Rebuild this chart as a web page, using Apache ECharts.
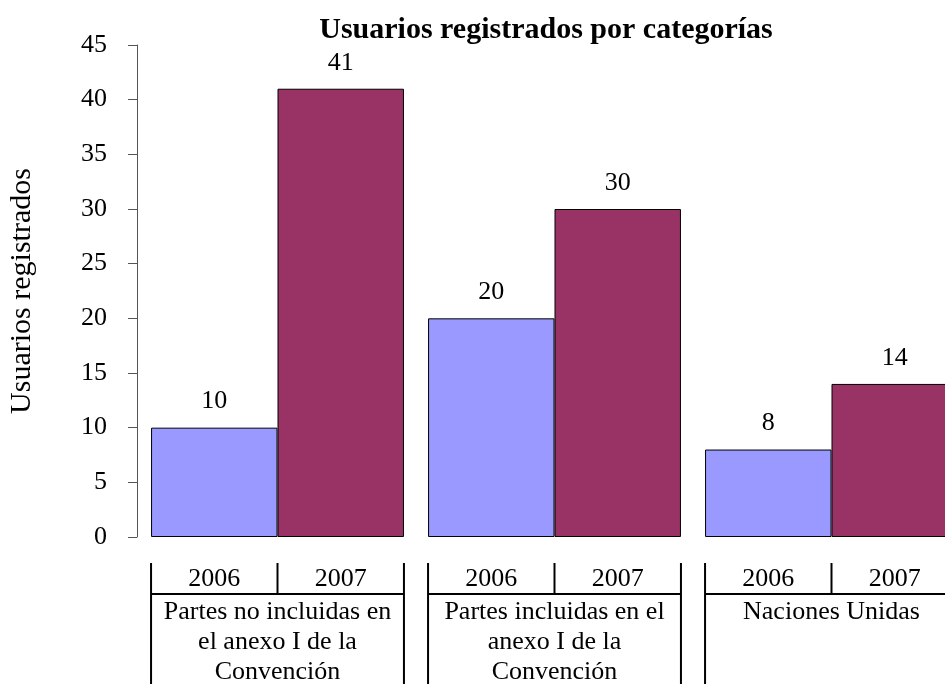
<!DOCTYPE html>
<html>
<head>
<meta charset="utf-8">
<script src="https://cdn.jsdelivr.net/npm/echarts@6/dist/echarts.min.js"></script>
<style>
  html, body { margin: 0; padding: 0; background: #fff; }
  #chart { width: 945px; height: 684px; }
</style>
</head>
<body>
<div id="chart"></div>
<script>
  // datos
  const categories = [
    'Partes no incluidas en\nel anexo I de la\nConvención',
    'Partes incluidas en el\nanexo I de la\nConvención',
    'Naciones Unidas'
  ];
  const years = ['2006', '2007'];
  const users2006 = [10, 20, 8];
  const users2007 = [41, 30, 14];
  const yMin = 0, yMax = 45, yStep = 5;

  const serif = '"Liberation Serif", "DejaVu Serif", serif';
  const catGap = 0.087; // barCategoryGap as fraction

  let myChart = echarts.init(document.getElementById('chart'));

  // tabla bajo el eje: años + nombre de categoría
  function renderTable(params, api) {
    let idx = api.value(0);
    let c = api.coord([idx, 0]);
    let band = api.size([1, 0])[0];
    let half = band * (1 - catGap) / 2;
    let x0 = c[0] - half, x1 = c[0] + half, xm = c[0];
    let y0 = c[1];
    let lineStyle = { stroke: '#000', lineWidth: 2 };
    let children = [
      { type: 'line', shape: { x1: x0, y1: y0 + 26, x2: x0, y2: y0 + 160 }, style: lineStyle },
      { type: 'line', shape: { x1: x1, y1: y0 + 26, x2: x1, y2: y0 + 160 }, style: lineStyle },
      { type: 'line', shape: { x1: xm, y1: y0 + 26, x2: xm, y2: y0 + 57 }, style: lineStyle },
      { type: 'line', shape: { x1: x0, y1: y0 + 57, x2: x1, y2: y0 + 57 }, style: lineStyle }
    ];
    years.forEach((yr, k) => {
      children.push({
        type: 'text',
        style: {
          text: yr, x: (k === 0 ? (x0 + xm) / 2 : (xm + x1) / 2), y: y0 + 42,
          align: 'center', verticalAlign: 'middle',
          fontSize: 26, fontFamily: serif, fill: '#000'
        }
      });
    });
    children.push({
      type: 'text',
      style: {
        text: categories[idx], x: xm, y: y0 + 60,
        align: 'center', verticalAlign: 'top',
        fontSize: 26, fontFamily: serif, lineHeight: 30, fill: '#000'
      }
    });
    return { type: 'group', children: children };
  }

  myChart.setOption({
    animation: false,
    title: {
      text: 'Usuarios registrados por categorías',
      left: 541, top: 10, textAlign: 'center',
      textStyle: { fontFamily: serif, fontSize: 30, fontWeight: 'bold', color: '#000' }
    },
    grid: { left: 139, top: 45, height: 492, width: 831, outerBoundsMode: 'none', containLabel: false },
    xAxis: {
      type: 'category',
      data: categories,
      axisLine: { show: false },
      axisTick: { show: false },
      axisLabel: { show: false }
    },
    yAxis: {
      type: 'value',
      min: yMin, max: yMax, interval: yStep,
      offset: 2,
      name: 'Usuarios registrados',
      nameLocation: 'middle',
      nameGap: 100,
      nameTextStyle: { fontFamily: serif, fontSize: 30, color: '#000' },
      axisLine: { show: true, lineStyle: { color: '#555', width: 1 } },
      axisTick: { show: true, length: 9, lineStyle: { color: '#555' } },
      axisLabel: { margin: 30, fontFamily: serif, fontSize: 26, color: '#000' },
      splitLine: { show: false }
    },
    series: [
      {
        name: years[0], type: 'bar', data: users2006,
        barGap: 0, barCategoryGap: (catGap * 100) + '%',
        itemStyle: { color: '#9999FF', borderColor: '#000', borderWidth: 1 },
        label: { show: true, position: 'top', distance: 13, fontFamily: serif, fontSize: 26, color: '#000' }
      },
      {
        name: years[1], type: 'bar', data: users2007,
        barGap: 0, barCategoryGap: (catGap * 100) + '%',
        itemStyle: { color: '#993366', borderColor: '#000', borderWidth: 1 },
        label: { show: true, position: 'top', distance: 13, fontFamily: serif, fontSize: 26, color: '#000' }
      },
      {
        type: 'custom',
        clip: false,
        silent: true,
        data: categories.map((c, i) => [i, 0]),
        encode: { x: 0, y: 1 },
        renderItem: renderTable
      }
    ]
  });
  window.addEventListener("resize", function () {
    myChart.resize();
  });
</script>
</body>
</html>
